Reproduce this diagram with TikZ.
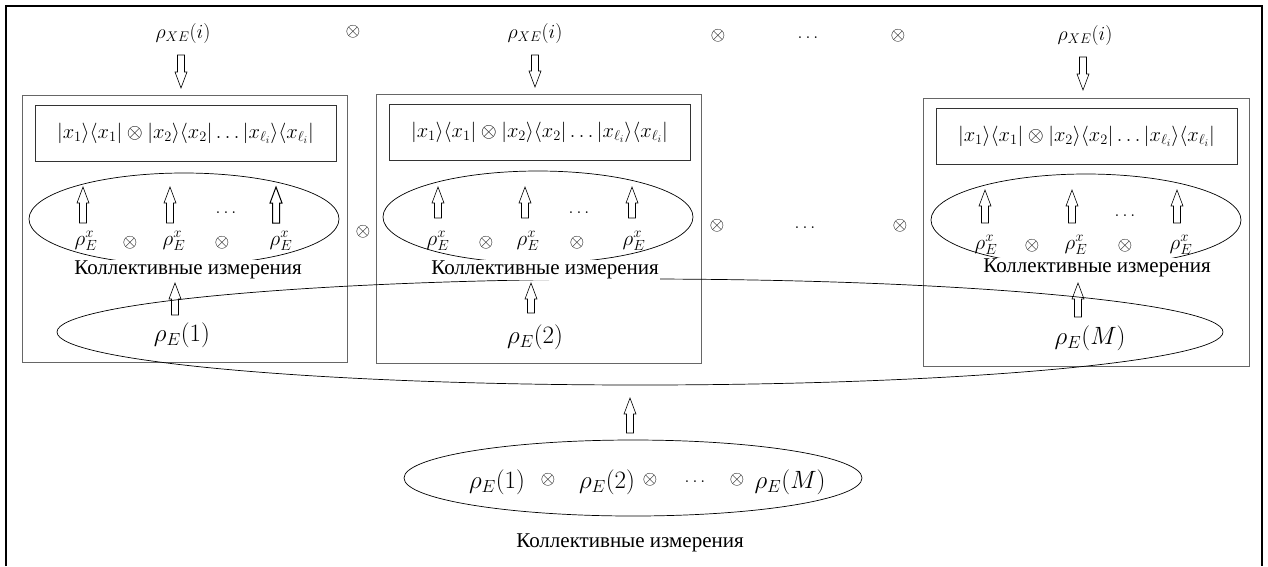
\RequirePackage{fix-cm}
\documentclass[tikz,border=0pt]{standalone}
\usepackage{fontspec}
\newfontfamily\rufont{Liberation Serif}
\usetikzlibrary{calc,shapes.geometric}
\tikzset{
  every node/.style={inner sep=0pt},
  outerbox/.style={draw=black!60, line width=0.8pt},
  innerbox/.style={draw=black!80, line width=0.8pt, minimum width=301pt, minimum height=56pt, font=\fontsize{20.5}{24}\selectfont},
  smallell/.style={ellipse, draw, line width=0.7pt, minimum width=310pt, minimum height=92pt},
  fxe/.style={font=\fontsize{20}{24}\selectfont},
  fbig/.style={font=\fontsize{25}{30}\selectfont},
  frx/.style={font=\fontsize{21}{25}\selectfont},
  fop/.style={font=\fontsize{19}{23}\selectfont},
  fdots/.style={font=\fontsize{18}{22}\selectfont},
  caption/.style={font=\rufont\fontsize{21}{25}\selectfont, fill=white, inner sep=1pt},
  harrow/.style={draw=black, fill=white, line width=0.6pt, to path={
    let \p1=(\tikztostart), \p2=(\tikztotarget), \p3=($(\tikztotarget)!16pt!(\tikztostart)$) in
    (\x1-3.5pt,\y1) -- (\x1-3.5pt,\y3) -- (\x1-6pt,\y3) -- (\x1,\y2) -- (\x1+6pt,\y3) -- (\x1+3.5pt,\y3) -- (\x1+3.5pt,\y1) -- cycle}},
}
\begin{document}
\begin{tikzpicture}[x=1pt,y=-1pt]
\useasboundingbox (0,0) rectangle (1268,566);
\draw[line width=2pt] (6,566) -- (6,6) -- (1262,6) -- (1262,566);

% top row
\node[fxe] (t1) at (183,33) {$\rho_{XE}(i)$};
\node[fop] (o1) at (353,32) {$\otimes$};
\node[fxe] (t2) at (535,33) {$\rho_{XE}(i)$};
\node[fop] (o2) at (718,36) {$\otimes$};
\node[fdots] (d1) at (808,38) {$\ldots$};
\node[fop] (o3) at (898,36) {$\otimes$};
\node[fxe] (t3) at (1085,35) {$\rho_{XE}(i)$};

% outer boxes
\node[outerbox, minimum width=325pt, minimum height=267pt] (B1) at (184.5,228.5) {};
\node[outerbox, minimum width=325pt, minimum height=269pt] (B2) at (538.5,228.5) {};
\node[outerbox, minimum width=326pt, minimum height=268pt] (B3) at (1086,232) {};

% inner boxes
\node[innerbox] (I1) at (185.5,133) {$|x_1\rangle\langle x_1|\otimes|x_2\rangle\langle x_2|\ldots|x_{\ell_i}\rangle\langle x_{\ell_i}|$};
\node[innerbox] (I2) at (539.5,132) {$|x_1\rangle\langle x_1|\otimes|x_2\rangle\langle x_2|\ldots|x_{\ell_i}\rangle\langle x_{\ell_i}|$};
\node[innerbox] (I3) at (1086.5,136) {$|x_1\rangle\langle x_1|\otimes|x_2\rangle\langle x_2|\ldots|x_{\ell_i}\rangle\langle x_{\ell_i}|$};

% top arrows
\coordinate (ta1) at (181,55); \coordinate (tb1) at (181,88);
\coordinate (ta2) at (535,55); \coordinate (tb2) at (535,87);
\coordinate (ta3) at (1083,57); \coordinate (tb3) at (1083,90);
\draw[harrow] (ta1) to (tb1);
\draw[harrow] (ta2) to (tb2);
\draw[harrow] (ta3) to (tb3);

% small ellipses
\node[smallell] (E1) at (184,219) {};
\node[smallell] (E2) at (538,217) {};
\node[smallell] (E3) at (1086,220) {};

% rho_E^x rows
\node[frx] (r11) at (86,241) {$\rho_E^x$};
\node[fop] (x11) at (130,243) {$\otimes$};
\node[frx] (r12) at (174,241) {$\rho_E^x$};
\node[fop] (x12) at (222,243) {$\otimes$};
\node[frx] (r13) at (281,241) {$\rho_E^x$};
\node[fdots] (dd1) at (226,213) {$\ldots$};

\node[frx] (r21) at (438,241) {$\rho_E^x$};
\node[fop] (x21) at (486,243) {$\otimes$};
\node[frx] (r22) at (528,241) {$\rho_E^x$};
\node[fop] (x22) at (577,243) {$\otimes$};
\node[frx] (r23) at (634,241) {$\rho_E^x$};
\node[fdots] (dd2) at (579,213) {$\ldots$};

\node[frx] (r31) at (986,245) {$\rho_E^x$};
\node[fop] (x31) at (1032,246) {$\otimes$};
\node[frx] (r32) at (1076,245) {$\rho_E^x$};
\node[fop] (x32) at (1125,246) {$\otimes$};
\node[frx] (r33) at (1181,245) {$\rho_E^x$};
\node[fdots] (dd3) at (1125,216) {$\ldots$};

% arrows inside small ellipses
\coordinate (p11) at (83,223); \coordinate (q11) at (83,187);
\coordinate (p12) at (170,223); \coordinate (q12) at (170,187);
\coordinate (p13) at (276,223); \coordinate (q13) at (276,187);
\coordinate (p21) at (438,218); \coordinate (q21) at (438,187);
\coordinate (p22) at (525,218); \coordinate (q22) at (525,187);
\coordinate (p23) at (632,218); \coordinate (q23) at (632,187);
\coordinate (p31) at (985,223); \coordinate (q31) at (985,190);
\coordinate (p32) at (1072,223); \coordinate (q32) at (1072,190);
\coordinate (p33) at (1177,223); \coordinate (q33) at (1177,190);
\draw[harrow] (p11) to (q11);
\draw[harrow] (p12) to (q12);
\draw[harrow, line width=1pt] (p13) to (q13);
\draw[harrow] (p21) to (q21);
\draw[harrow] (p22) to (q22);
\draw[harrow] (p23) to (q23);
\draw[harrow] (p31) to (q31);
\draw[harrow] (p32) to (q32);
\draw[harrow] (p33) to (q33);

% lower arrows and rho_E(n)
\node[fbig] (e1) at (182,335) {$\rho_E(1)$};
\node[fbig] (e2) at (535,337) {$\rho_E(2)$};
\node[fbig] (e3) at (1090,338) {$\rho_E(M)$};
\coordinate (u1) at (175,315); \coordinate (v1) at (175,283);
\coordinate (u2) at (531,313); \coordinate (v2) at (531,283);
\coordinate (u3) at (1078,317); \coordinate (v3) at (1078,283);
\draw[harrow] (u1) to (v1);
\draw[harrow] (u2) to (v2);
\draw[harrow] (u3) to (v3);

% big ellipse
\node[ellipse, draw, line width=0.7pt, minimum width=1166pt, minimum height=106pt] (BE) at (640,332) {};

% captions
\node[caption] (c1) at (188,270) {Коллективные измерения};
\node[caption] (c2) at (545,270) {Коллективные измерения};
\node[caption] (c3) at (1097,268) {Коллективные измерения};

% middle row operators
\node[fop] (m1) at (363,232) {$\otimes$};
\node[fop] (m2) at (717,226) {$\otimes$};
\node[fdots] (m3) at (805,228) {$\ldots$};
\node[fop] (m4) at (900,226) {$\otimes$};

% bottom
\coordinate (ba) at (630,433); \coordinate (bb) at (630,398);
\draw[harrow] (ba) to (bb);
\node[ellipse, draw, line width=0.7pt, minimum width=458pt, minimum height=76pt] (BOT) at (633,478) {};
\node[fbig] (s1) at (497,482) {$\rho_E(1)$};
\node[fop] (so1) at (548,480) {$\otimes$};
\node[fbig] (s2) at (607,482) {$\rho_E(2)$};
\node[fop] (so2) at (650,480) {$\otimes$};
\node[fdots] (sd) at (695,482) {$\ldots$};
\node[fop] (so3) at (737,480) {$\otimes$};
\node[fbig] (s3) at (790,482) {$\rho_E(M)$};
\node[caption] (c4) at (630,543) {Коллективные измерения};
\end{tikzpicture}
\end{document}
